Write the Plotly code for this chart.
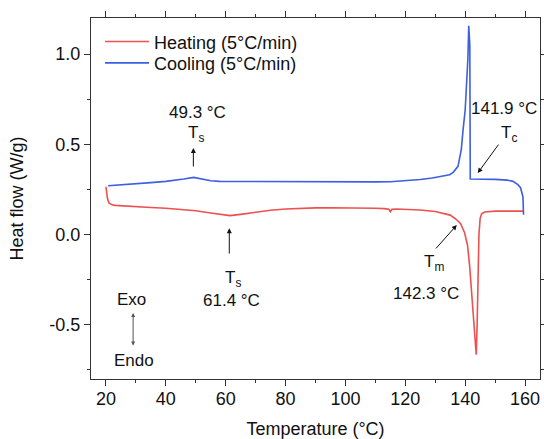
import plotly.graph_objects as go

# ---- data ----
heat_T = [20.0, 20.2, 20.5, 21, 22, 23, 26, 30, 35, 40, 45, 50, 55, 58, 61.4, 65, 70, 75, 80, 85, 90,
          95, 100, 105, 110, 113, 114.5, 115, 115.5, 117, 120, 125, 130, 133, 135, 137, 138.5, 139.8,
          140.8, 141.5, 142.1, 142.6, 143.2, 143.7, 144.0, 144.3, 144.6, 145.0, 145.5, 146.5, 148,
          150, 155, 159.5]
heat_Q = [0.265, 0.24, 0.20, 0.175, 0.165, 0.162, 0.158, 0.155, 0.15, 0.146, 0.14, 0.132, 0.12, 0.112,
          0.105, 0.112, 0.125, 0.135, 0.142, 0.146, 0.148, 0.149, 0.149, 0.148, 0.146, 0.144, 0.14,
          0.127, 0.14, 0.142, 0.14, 0.136, 0.128, 0.118, 0.108, 0.085, 0.06, 0.01, -0.06, -0.175,
          -0.3, -0.415, -0.56, -0.665, -0.5, -0.266, 0.0, 0.09, 0.115, 0.125, 0.128, 0.13, 0.13, 0.13]

cool_T = [159.5, 159.3, 158.5, 157.6, 156, 154, 150, 146, 143, 142.0, 141.7, 141.55, 141.2, 140.9,
          140.6, 140.0, 139.3, 138.7, 137.6, 136, 134.8, 132, 129, 125, 120, 115, 110, 100, 90, 80,
          70, 62, 58, 55, 52, 49.3, 46, 43, 40, 35, 30, 25, 20.7]
cool_Q = [0.11, 0.21, 0.26, 0.277, 0.295, 0.302, 0.306, 0.307, 0.308, 0.308, 0.308, 1.05, 1.157, 0.97,
          0.88, 0.69, 0.58, 0.47, 0.378, 0.345, 0.332, 0.322, 0.314, 0.305, 0.298, 0.293, 0.292,
          0.292, 0.292, 0.292, 0.292, 0.292, 0.295, 0.298, 0.306, 0.317, 0.308, 0.3, 0.295, 0.288,
          0.282, 0.276, 0.271]

series_names = ["Heating (5°C/min)", "Cooling (5°C/min)"]
x_ticks = [20, 40, 60, 80, 100, 120, 140, 160]
y_ticks = [-0.5, 0.0, 0.5, 1.0]
y_ticklabels = ["-0.5", "0.0", "0.5", "1.0"]

FONT = "Liberation Sans, Arial, sans-serif"
RED = "#EE5050"
BLUE = "#3D5FE0"
AX = "#333333"

fig = go.Figure()
fig.add_trace(go.Scatter(x=heat_T, y=heat_Q, mode="lines", name=series_names[0],
                         line=dict(color=RED, width=1.6), legend="legend"))
fig.add_trace(go.Scatter(x=cool_T, y=cool_Q, mode="lines", name=series_names[1],
                         line=dict(color=BLUE, width=1.6), legend="legend2"))

# text labels
labels = [
    ("49.3 °C", 50.5, 0.679),
    ("T<sub>s</sub>", 50.2, 0.56),
    ("141.9 °C", 153.0, 0.701),
    ("T<sub>c</sub>", 154.5, 0.56),
    ("T<sub>s</sub>", 62.4, -0.245),
    ("61.4 °C", 61.8, -0.366),
    ("T<sub>m</sub>", 129.5, -0.16),
    ("142.3 °C", 126.8, -0.324),
    ("Exo", 28.5, -0.362),
    ("Endo", 29.5, -0.695),
]
for txt, x, y in labels:
    fig.add_annotation(x=x, y=y, xref="x", yref="y", text=txt, showarrow=False,
                       font=dict(family=FONT, size=17, color="#111111"))

# arrows: (head_x, head_y, tail_x, tail_y)
arrows = [
    (49.2, 0.48, 49.2, 0.369),
    (144.2, 0.341, 151.5, 0.507),
    (61.2, 0.035, 61.2, -0.113),
    (137.2, 0.053, 129.8, -0.085),
]
for hx, hy, tx, ty in arrows:
    fig.add_annotation(x=hx, y=hy, ax=tx, ay=ty, xref="x", yref="y", axref="x", ayref="y",
                       text="", showarrow=True, arrowhead=2, arrowsize=1, arrowwidth=1,
                       arrowcolor="#111111")
# Exo / Endo double arrow
fig.add_annotation(x=29.07, y=-0.434, ax=29.07, ay=-0.623, xref="x", yref="y", axref="x", ayref="y",
                   text="", showarrow=True, arrowhead=2, startarrowhead=2, arrowside="end+start",
                   arrowsize=0.8, startarrowsize=0.8, arrowwidth=1, arrowcolor="#555555")

axis_common = dict(showline=True, linecolor=AX, linewidth=1.2, mirror="ticks", ticks="outside",
                   ticklen=6, tickwidth=1.2, tickcolor=AX, showgrid=False, zeroline=False,
                   automargin=False,
                   tickfont=dict(family=FONT, size=18, color="#111111"),
                   minor=dict(ticks="outside", ticklen=3, tickwidth=1.2, tickcolor=AX, showgrid=False))

fig.update_xaxes(range=[15, 165], tickvals=x_ticks, minor_dtick=10, ticklabelstandoff=-3,
                 title=dict(text="Temperature (°C)", font=dict(family=FONT, size=18, color="#111111"),
                            standoff=14),
                 **axis_common)
fig.update_yaxes(range=[-0.8, 1.2], tickvals=y_ticks, ticktext=y_ticklabels, minor_dtick=0.25,
                 title=dict(text="Heat flow (W/g)", font=dict(family=FONT, size=18, color="#111111"),
                            standoff=20),
                 **axis_common)

leg_common = dict(xanchor="left", yanchor="middle", bgcolor="rgba(0,0,0,0)",
                  font=dict(family=FONT, size=18, color="#111111"), itemwidth=44)
fig.update_layout(
    width=544, height=439,
    margin=dict(l=91, r=4, t=18, b=60, autoexpand=False),
    paper_bgcolor="white", plot_bgcolor="white",
    showlegend=True,
    legend=dict(x=0.02, y=0.934, **leg_common),
    legend2=dict(x=0.02, y=0.875, **leg_common),
)

# remove the default page margin so the 544x439 figure fills the window exactly
fig.write_html("out.html",
               config={"displayModeBar": False},
               post_script="document.body.style.margin='0';document.body.style.overflow='hidden';")
